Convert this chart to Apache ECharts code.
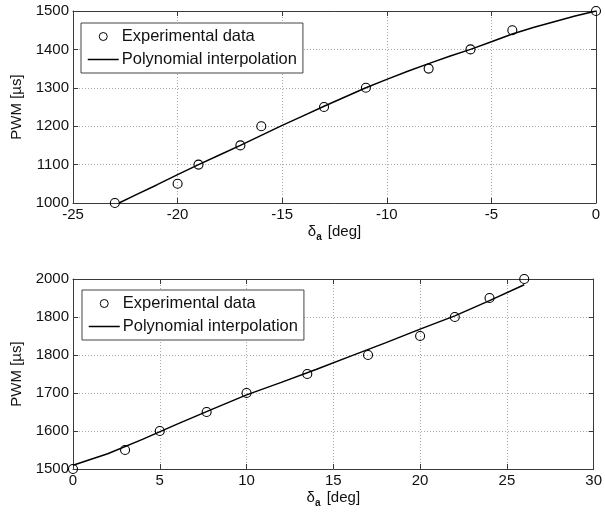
<!DOCTYPE html>
<html>
<head>
<meta charset="utf-8">
<script src="https://cdn.jsdelivr.net/npm/echarts@6/dist/echarts.min.js"></script>
<style>
html,body{margin:0;padding:0;background:#fff;}
#chart{width:605px;height:520px;}
</style>
</head>
<body>
<div id="chart"></div>
<script>
// ---- data ----
const topExpX = [-23, -20, -19, -17, -16, -13, -11, -8, -6, -4, 0];
const topExpY = [1000, 1050, 1100, 1150, 1200, 1250, 1300, 1350, 1400, 1450, 1500];
const topFitX = [-22.8, -22, -21, -20, -19, -18, -17, -16, -15, -14, -13, -12, -11, -10, -9, -8, -7, -6, -5, -4, -3, -2, -1, 0];
const topFitY = [1000, 1021, 1047, 1074, 1100, 1125, 1150, 1176, 1202, 1227, 1252, 1276, 1300, 1322, 1343, 1363, 1382, 1400, 1420, 1440, 1457, 1472, 1487, 1500];

const botExpX = [0, 3, 5, 7.7, 10, 13.5, 17, 20, 22, 24, 26];
const botExpY = [1500, 1550, 1600, 1650, 1700, 1750, 1800, 1850, 1900, 1950, 2000];
const botFitX = [0, 2, 4, 6, 8, 10, 12, 14, 16, 18, 20, 22, 24, 26];
const botFitY = [1510, 1540, 1578, 1618, 1657, 1695, 1728, 1762, 1797, 1832, 1868, 1903, 1943, 1985];

const topXTicks = ['-25', '-20', '-15', '-10', '-5', '0'];
const topYTicks = ['1000', '1100', '1200', '1300', '1400', '1500'];
const botXTicks = ['0', '5', '10', '15', '20', '25', '30'];
const botYTicks = ['1500', '1600', '1700', '1800', '1800', '2000'];

const seriesNames = ['Experimental data', 'Polynomial interpolation'];
const xName = '{d|δ}{s|a} [deg]';
const yName = 'PWM [µs]';

// ---- helpers ----
const FONT = "'Liberation Sans', Arial, sans-serif";
const AX = '#3a3a3a';
const pairs = (xs, ys) => xs.map((x, i) => [x, ys[i]]);
const tickFmt = (labels, min, step) => (v) => {
  const i = Math.round((v - min) / step);
  return labels[i] !== undefined ? labels[i] : '';
};

function mainX(gi, min, max, step, labels) {
  return {
    type: 'value', gridIndex: gi, position: 'bottom', min, max, interval: step,
    name: xName, nameLocation: 'middle', nameGap: 19,
    nameTextStyle: {
      color: '#111', fontFamily: FONT, fontSize: 15,
      rich: {
        d: { fontSize: 15, fontFamily: FONT, color: '#111' },
        s: { fontSize: 10, fontWeight: 'bold', fontFamily: FONT, color: '#111', padding: [10, 2, 0, 0] }
      }
    },
    axisLine: { show: true, onZero: false, lineStyle: { color: AX, width: 1 } },
    axisTick: { show: true, inside: true, length: 5, lineStyle: { color: AX } },
    axisLabel: { color: '#111', fontFamily: FONT, fontSize: 15, margin: 4, formatter: tickFmt(labels, min, step) },
    splitLine: { show: true, lineStyle: { color: '#a8a8a8', type: [1, 2], width: 1 } }
  };
}
function boxX(gi, min, max, step) {
  return {
    type: 'value', gridIndex: gi, position: 'top', min, max, interval: step,
    axisLine: { show: true, onZero: false, lineStyle: { color: AX, width: 1 } },
    axisTick: { show: true, inside: true, length: 5, lineStyle: { color: AX } },
    axisLabel: { show: false }, splitLine: { show: false }
  };
}
function mainY(gi, min, max, step, labels) {
  return {
    type: 'value', gridIndex: gi, position: 'left', min, max, interval: step,
    name: yName, nameLocation: 'middle', nameGap: 47, nameRotate: 90,
    nameTextStyle: { color: '#111', fontFamily: FONT, fontSize: 15 },
    axisLine: { show: true, onZero: false, lineStyle: { color: AX, width: 1 } },
    axisTick: { show: true, inside: true, length: 5, lineStyle: { color: AX } },
    axisLabel: { color: '#111', fontFamily: FONT, fontSize: 15, margin: 4, formatter: tickFmt(labels, min, step) },
    splitLine: { show: true, lineStyle: { color: '#a8a8a8', type: [1, 2], width: 1 } }
  };
}
function boxY(gi, min, max, step) {
  return {
    type: 'value', gridIndex: gi, position: 'right', min, max, interval: step,
    axisLine: { show: true, onZero: false, lineStyle: { color: AX, width: 1 } },
    axisTick: { show: true, inside: true, length: 5, lineStyle: { color: AX } },
    axisLabel: { show: false }, splitLine: { show: false }
  };
}
function expSeries(xi, yi, xs, ys) {
  return {
    name: seriesNames[0], type: 'line', xAxisIndex: xi, yAxisIndex: yi,
    data: pairs(xs, ys), symbol: 'circle', symbolSize: 9, showSymbol: true,
    lineStyle: { width: 0, opacity: 0 },
    itemStyle: { color: 'rgba(255,255,255,0)', borderColor: '#000', borderWidth: 1.1 },
    z: 3, silent: true, animation: false
  };
}
function fitSeries(xi, yi, xs, ys) {
  return {
    name: seriesNames[1], type: 'line', xAxisIndex: xi, yAxisIndex: yi,
    data: pairs(xs, ys), symbol: 'none', showSymbol: false,
    lineStyle: { color: '#000', width: 1.5 },
    itemStyle: { color: '#000' },
    z: 2, silent: true, animation: false
  };
}
function legend(left, top) {
  return {
    left, top, orient: 'vertical', selectedMode: false,
    data: [
      { name: seriesNames[0], itemStyle: { color: '#fff', borderColor: '#000', borderWidth: 1 } },
      { name: seriesNames[1], itemStyle: { opacity: 0, borderWidth: 0 }, lineStyle: { color: '#000', width: 1.5 } }
    ],
    backgroundColor: '#fff', borderColor: '#444', borderWidth: 1, borderRadius: 0,
    padding: [5, 6, 5, 6], itemGap: 6, itemWidth: 31, itemHeight: 10,
    textStyle: { color: '#111', fontFamily: FONT, fontSize: 16.5, padding: [0, 0, 0, -2] }
  };
}

const chart = echarts.init(document.getElementById('chart'), null, { renderer: 'canvas' });
chart.setOption({
  animation: false,
  backgroundColor: '#fff',
  grid: [
    { left: 73, top: 11, width: 523, height: 192, containLabel: false },
    { left: 73, top: 279, width: 523, height: 190, containLabel: false }
  ],
  legend: [legend(81, 23), legend(82, 290)],
  xAxis: [
    mainX(0, -25, 0, 5, topXTicks), boxX(0, -25, 0, 5),
    mainX(1, 0, 30, 5, botXTicks), boxX(1, 0, 30, 5)
  ],
  yAxis: [
    mainY(0, 1000, 1500, 100, topYTicks), boxY(0, 1000, 1500, 100),
    mainY(1, 1500, 2000, 100, botYTicks), boxY(1, 1500, 2000, 100)
  ],
  series: [
    fitSeries(0, 0, topFitX, topFitY),
    expSeries(0, 0, topExpX, topExpY),
    fitSeries(2, 2, botFitX, botFitY),
    expSeries(2, 2, botExpX, botExpY)
  ]
});
</script>
</body>
</html>
